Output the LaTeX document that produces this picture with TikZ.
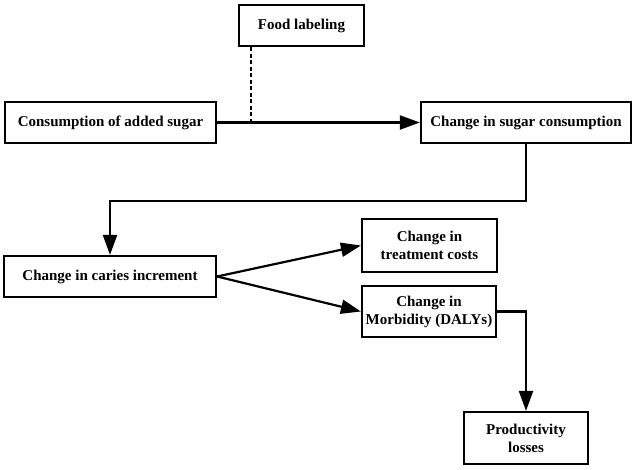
\documentclass[tikz,border=0pt]{standalone}
\usepackage{fontspec}
\setmainfont{Liberation Serif}
\usetikzlibrary{arrows.meta}
\begin{document}
\begin{tikzpicture}[x=1pt, y=-1pt,
  box/.style={draw, line width=2.2pt, align=center, inner sep=2pt,
    font=\fontsize{15}{18}\selectfont\bfseries},
  link/.style={line width=2.2pt, -{Triangle[length=20pt, width=14pt]}}]
\useasboundingbox (0,0) rectangle (636,469);
\node[box, minimum width=125pt, minimum height=41pt] (food) at (301.5,25.5) {Food labeling};
\node[box, minimum width=211pt, minimum height=41pt] (cons) at (110.5,122.5) {Consumption of added sugar};
\node[box, minimum width=210pt, minimum height=41pt] (sugar) at (526,122.5) {Change in sugar consumption};
\node[box, minimum width=212pt, minimum height=41pt] (caries) at (110,276.5) {Change in caries increment};
\node[box, minimum width=135pt, minimum height=53pt] (treat) at (429.5,245.5) {Change in\\treatment costs};
\node[box, minimum width=134pt, minimum height=51pt] (morb) at (429,311.5) {Change in\\Morbidity (DALYs)};
\node[box, minimum width=124pt, minimum height=52pt] (prod) at (526,438) {Productivity\\losses};
\coordinate (bend) at (0,201);
\draw[link] (cons) -- (sugar);
\draw[line width=2pt, dash pattern=on 4pt off 2.5pt] ([xshift=13pt]food.south west) -- ([xshift=13pt]food.south west |- cons.east);
\draw[link] (sugar.south) -- (sugar.south |- bend) -| (caries.north);
\draw[link] (caries.east) -- (treat.west);
\draw[link] (caries.east) -- (morb.west);
\draw[link] (morb.east) -| (prod.north);
\end{tikzpicture}
\end{document}
